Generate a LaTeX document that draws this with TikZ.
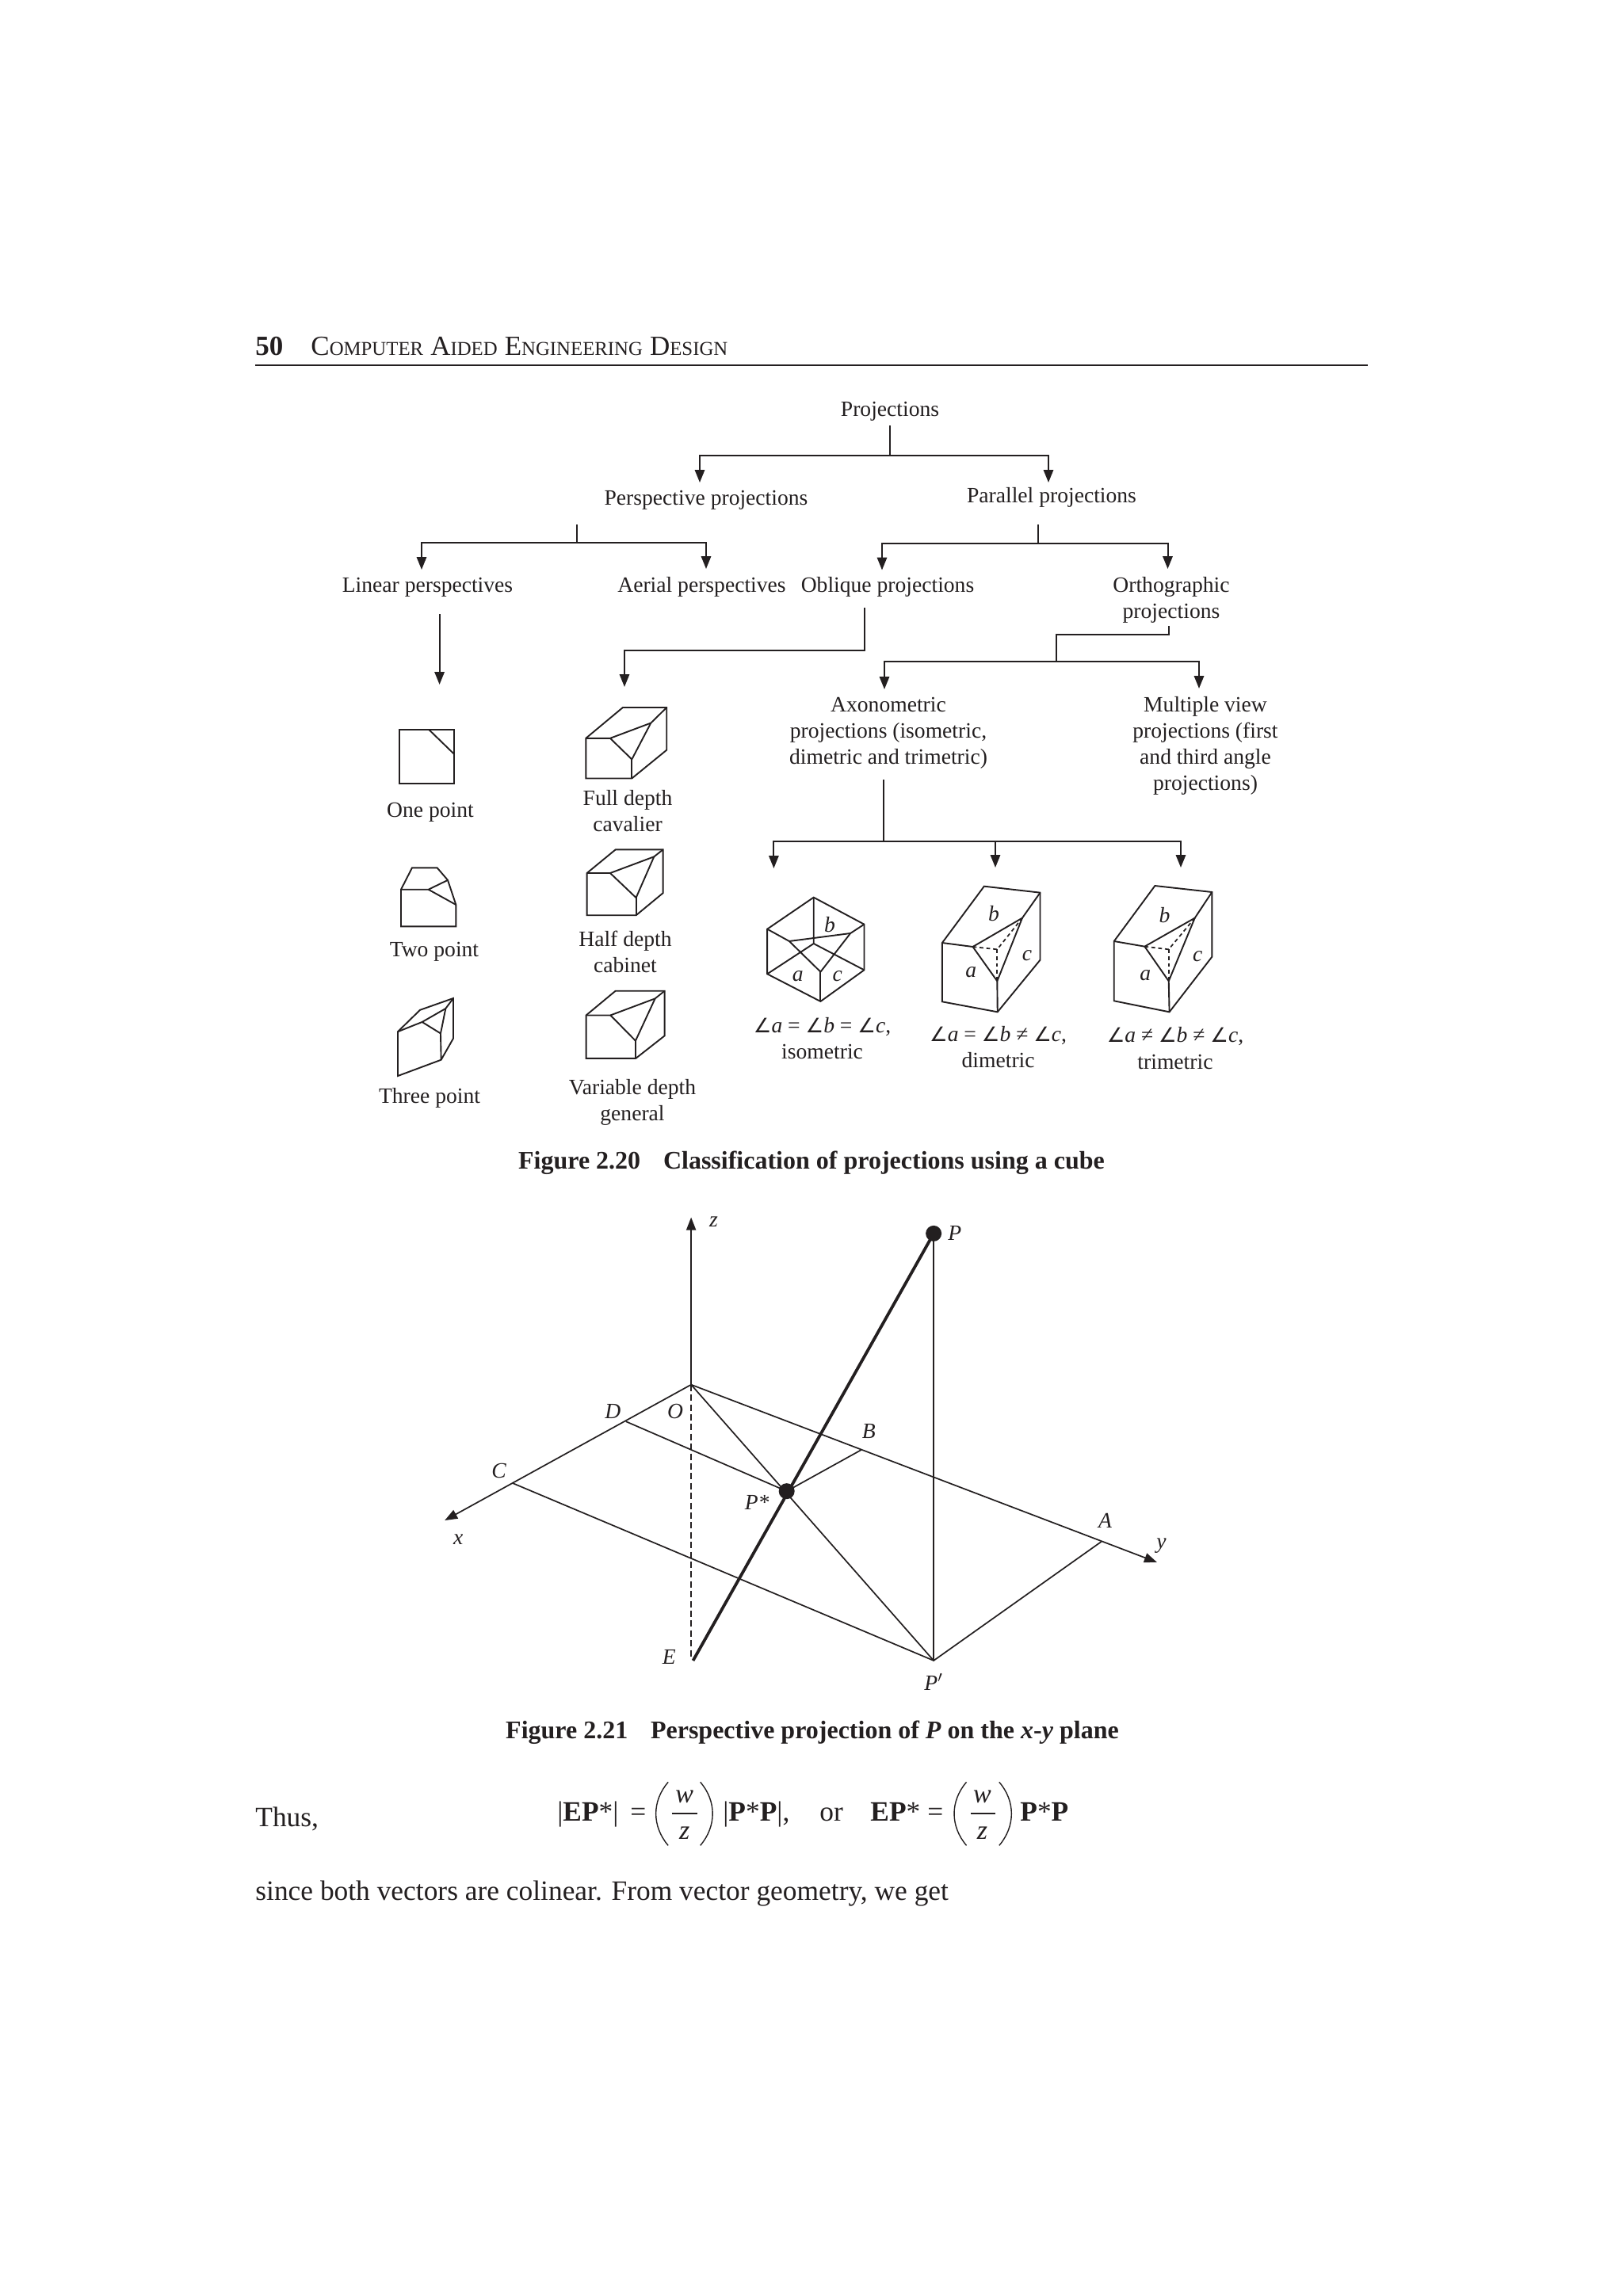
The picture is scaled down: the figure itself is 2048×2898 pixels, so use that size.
\documentclass[tikz,border=0pt]{standalone}
\usepackage{fontspec}
\setmainfont{Liberation Serif}
\newfontfamily\symfont{DejaVu Sans}
\usetikzlibrary{arrows.meta}
\definecolor{ink}{HTML}{231F20}
\newcommand{\LL}[1]{\begin{tabular}[t]{@{}c@{}}#1\end{tabular}}
\newcommand{\Ang}[1]{{\symfont\fontsize{12.6}{16.6}\selectfont ∠}\textit{#1}}
\newcommand{\SC}[2]{{\fontsize{17.5}{20}\selectfont #1}{\fontsize{12.4}{20}\selectfont #2}}
\tikzset{
  x=0.5pt,y=-0.5pt,
  txt/.style={inner sep=0pt,anchor=base,text=ink,font=\fontsize{13.8}{16.6}\selectfont},
  lab/.style={inner sep=0pt,anchor=center,text=ink,font=\fontsize{13.8}{16.6}\selectfont\itshape},
  body/.style={inner sep=0pt,anchor=base west,text=ink,font=\fontsize{17.7}{20}\selectfont},
  capt/.style={inner sep=0pt,anchor=base,text=ink,font=\fontsize{16}{18}\selectfont\bfseries},
  conn/.style={draw=ink,line width=1pt,line join=miter},
  arr/.style={conn,-{Triangle[length=8pt,width=6.2pt]}},
  fig/.style={draw=ink,line width=0.95pt,line join=miter},
  dotted line/.style={draw=ink,line width=0.85pt,dash pattern=on 2.4pt off 1.9pt},
  geo/.style={draw=ink,line width=0.85pt},
  heavy/.style={draw=ink,line width=1.9pt},
  spot/.style={circle,fill=ink,inner sep=0pt,minimum size=10pt},
}
\begin{document}
\begin{tikzpicture}
\useasboundingbox (0,0) rectangle (2048,2898);
\fill[white] (0,0) rectangle (2048,2898);

% header
\node[inner sep=0pt,anchor=base west,text=ink,font=\fontsize{17.5}{20}\selectfont\bfseries] (pageno) at (322,448) {50};
\node[inner sep=0pt,anchor=base west,text=ink] (runhead) at (392,448) {\SC{C}{OMPUTER}\hspace{2pt} \SC{A}{IDED}\hspace{2pt} \SC{E}{NGINEERING}\hspace{2pt} \SC{D}{ESIGN}};
\coordinate (ruleL) at (322,461); \coordinate (ruleR) at (1726,461);
\draw[draw=ink,line width=1.1pt] (ruleL) -- (ruleR);

% tree labels
\node[txt] (proj) at (1123,525) {Projections};
\node[txt] (persp) at (891,637) {Perspective projections};
\node[txt] (para) at (1327,634) {Parallel projections};
\node[txt] (linear) at (539.5,747) {Linear perspectives};
\node[txt] (aerial) at (885.5,747) {Aerial perspectives};
\node[txt] (oblique) at (1120,747) {Oblique projections};
\node[txt] (ortho) at (1478,747) {\LL{Orthographic\\projections}};
\node[txt] (axo) at (1121,898) {\LL{Axonometric\\projections (isometric,\\dimetric and trimetric)}};
\node[txt] (multi) at (1521,898) {\LL{Multiple view\\projections (first\\and third angle\\projections)}};

% tree connectors
\coordinate (a1) at (1122.5,537); \coordinate (a2) at (1122.5,575);
\coordinate (a3) at (883,609); \coordinate (a4) at (1323,609);
\draw[conn] (a1) -- (a2);
\draw[arr] (a2) -| (a3);
\draw[arr] (a2) -| (a4);

\coordinate (b1) at (727.5,662); \coordinate (b2) at (727.5,685);
\coordinate (b3) at (532,719); \coordinate (b4) at (891,718);
\draw[conn] (b1) -- (b2);
\draw[arr] (b2) -| (b3);
\draw[arr] (b2) -| (b4);

\coordinate (c1) at (1309.5,662); \coordinate (c2) at (1309.5,685.5);
\coordinate (c3) at (1113,719.5); \coordinate (c4) at (1473.5,718);
\draw[conn] (c1) -- (c2);
\draw[arr] (c2) -| (c3);
\draw[arr] (c2) -| (c4);

\coordinate (d1) at (554.6,775); \coordinate (d2) at (554.6,864);
\draw[arr] (d1) -- (d2);

\coordinate (e1) at (1091,767); \coordinate (e2) at (1091,821); \coordinate (e3) at (788,867);
\draw[arr] (e1) -- (e2) -| (e3);

\coordinate (f1) at (1475,790); \coordinate (f2) at (1475,801);
\coordinate (f3) at (1333,801); \coordinate (f4) at (1333,835);
\coordinate (f5) at (1116,870); \coordinate (f6) at (1513,869);
\draw[conn] (f1) -- (f2) -- (f3) -- (f4);
\draw[arr] (f4) -| (f5);
\draw[arr] (f4) -| (f6);

\coordinate (g1) at (1115,983.5); \coordinate (g2) at (1115,1062);
\coordinate (g3) at (976.4,1096); \coordinate (g4) at (1256,1095); \coordinate (g5) at (1490,1095);
\draw[conn] (g1) -- (g2);
\draw[arr] (g2) -| (g3);
\draw[arr] (g2) -| (g4);
\draw[arr] (g2) -| (g5);

% left cube column, in crop coordinates
\begin{scope}[shift={(430,880)},xscale=0.3333,yscale=0.37]
\draw[fig] (222,110) rectangle (428,294);
\draw[fig] (333,110) -- (428,193);
\draw[fig] (228,782) -- (436,782) -- (436,708) -- (405,624) -- (365,582) -- (270,582) -- (228,656) -- cycle;
\draw[fig] (228,656) -- (332,656) -- (405,624);
\draw[fig] (332,656) -- (436,708);
\draw[fig] (216,1141) -- (216,1292) -- (380,1237) -- (426,1164) -- (426,1027) -- (300,1067) -- cycle;
\draw[fig] (216,1141) -- (308,1108) -- (397,1062) -- (426,1027);
\draw[fig] (308,1108) -- (378,1147) -- (397,1062);
\draw[fig] (378,1147) -- (380,1237);
% full depth
\draw[fig] (928,140) -- (928,277) -- (1102,277) -- (1234,180) -- (1234,35) -- (1068,35) -- cycle;
\draw[fig] (928,140) -- (1020,140) -- (1174,88) -- (1234,35);
\draw[fig] (1174,88) -- (1102,212) -- (1020,140);
\draw[fig] (1102,212) -- (1102,277);
% half depth
\draw[fig] (932,600) -- (932,744) -- (1118,744) -- (1220,668) -- (1220,520) -- (1040,520) -- cycle;
\draw[fig] (932,600) -- (1020,600) -- (1186,544) -- (1220,520);
\draw[fig] (1186,544) -- (1118,684) -- (1020,600);
\draw[fig] (1118,684) -- (1118,744);
% variable depth
\draw[fig] (929,1085) -- (929,1232) -- (1117,1232) -- (1226,1155) -- (1226,1002) -- (1040,1002) -- cycle;
\draw[fig] (929,1085) -- (1021,1085) -- (1190,1028) -- (1226,1002);
\draw[fig] (1190,1028) -- (1116,1172) -- (1021,1085);
\draw[fig] (1116,1172) -- (1116,1232);
\end{scope}
\node[txt] (onep) at (543,1031) {One point};
\node[txt] (twop) at (548,1207) {Two point};
\node[txt] (threep) at (542,1392) {Three point};
\node[txt] (full) at (792,1016) {\LL{Full depth\\cavalier}};
\node[txt] (half) at (789,1194) {\LL{Half depth\\cabinet}};
\node[txt] (vari) at (798,1381) {\LL{Variable depth\\general}};

% right cubes, in crop coordinates
\begin{scope}[shift={(930,1060)},xscale=0.4337,yscale=0.3333]
\draw[fig] (223,218) -- (370,320) -- (370,493) -- (243,612) -- (88,508) -- (88,338) -- cycle;
\draw[fig] (223,218) -- (223,393) -- (88,508);
\draw[fig] (223,393) -- (370,493);
\draw[fig] (88,338) -- (152,384) -- (330,354) -- (370,320);
\draw[fig] (152,384) -- (243,500) -- (330,354);
\draw[fig] (243,500) -- (243,612);
\node[lab] (isob) at (270,322) {b};
\node[lab] (isoa) at (177,517) {a};
\node[lab] (isoc) at (292,517) {c};
\node[txt] (isocap) at (248,730) {\LL{\Ang{a} = \Ang{b} = \Ang{c},\\isometric}};
%
\draw[fig] (597,390) -- (597,613) -- (758,652) -- (882,455) -- (882,200) -- (719,176) -- cycle;
\draw[fig] (597,390) -- (686,405) -- (830,296) -- (882,200);
\draw[fig] (830,296) -- (757,535) -- (686,405);
\draw[fig] (757,535) -- (758,652);
\draw[dotted line] (686,405) -- (757,415) -- (830,296);
\draw[dotted line] (757,415) -- (757,535);
\node[lab] (dimb) at (747,278) {b};
\node[lab] (dima) at (681,500) {a};
\node[lab] (dimc) at (844,438) {c};
\node[txt] (dimcap) at (760,763) {\LL{\Ang{a} = \Ang{b} ≠ \Ang{c},\\dimetric}};
%
\draw[fig] (1097,384) -- (1097,610) -- (1258,652) -- (1382,443) -- (1382,198) -- (1216,174) -- cycle;
\draw[fig] (1097,384) -- (1186,404) -- (1332,296) -- (1382,198);
\draw[fig] (1332,296) -- (1256,535) -- (1186,404);
\draw[fig] (1256,535) -- (1258,652);
\draw[dotted line] (1186,404) -- (1256,415) -- (1332,296);
\draw[dotted line] (1256,415) -- (1256,535);
\node[lab] (trib) at (1244,285) {b};
\node[lab] (tria) at (1188,512) {a};
\node[lab] (tric) at (1340,442) {c};
\node[txt] (tricap) at (1275,768) {\LL{\Ang{a} ≠ \Ang{b} ≠ \Ang{c},\\trimetric}};
\end{scope}

\node[capt] (cap20) at (1024,1475) {Figure 2.20\hspace{0.9em}Classification of projections using a cube};

% figure 2.21, in crop coordinates
\begin{scope}[shift={(540,1520)},xscale=0.606,yscale=0.4337]
\coordinate (O) at (548,525);
\coordinate (zt) at (548,38);
\coordinate (xt) at (35,920);
\coordinate (yt) at (1518,1042);
\coordinate (C) at (177,812);
\coordinate (D) at (412,632);
\coordinate (B) at (902,715);
\coordinate (A) at (1402,982);
\coordinate (Pp) at (1053,1328);
\coordinate (E) at (552,1328);
\coordinate (Ef) at (548,1325);
\node[spot] (P) at (1053,85) {};
\node[spot] (Ps) at (747,835) {};
\draw[geo,-{Triangle[length=8pt,width=6pt]}] (O) -- (zt);
\draw[geo,-{Triangle[length=8pt,width=6pt]}] (O) -- (xt);
\draw[geo,-{Triangle[length=8pt,width=6pt]}] (O) -- (yt);
\draw[draw=ink,line width=0.85pt,dash pattern=on 4pt off 2.2pt] (O) -- (Ef);
\draw[geo] (D) -- (Ps.center) -- (B);
\draw[geo] (C) -- (Pp) -- (A);
\draw[geo] (O) -- (Pp);
\draw[geo] (P.center) -- (Pp);
\draw[heavy] (E) -- (P.center);
\node[lab] (lz) at (595,50) {z};
\node[lab] (lP) at (1097,83) {P};
\node[lab] (lD) at (385,603) {D};
\node[lab] (lO) at (515,603) {O};
\node[lab] (lB) at (918,660) {B};
\node[lab] (lC) at (148,775) {C};
\node[lab] (lPs) at (685,868) {P*};
\node[lab] (lA) at (1410,920) {A};
\node[lab] (lx) at (63,975) {x};
\node[lab] (ly) at (1527,993) {y};
\node[lab] (lE) at (502,1317) {E};
\node[lab] (lPp) at (1053,1390) {P$'$};
\end{scope}

\node[capt] (cap21) at (1025,2194) {Figure 2.21\hspace{0.9em}Perspective projection of \textit{P} on the \textit{x}-\textit{y} plane};

% equation
\node[body] (thus) at (322,2305) {Thus,};
\node[body] (q1) at (703,2298) {|\textbf{EP}*|};
\node[body] (q2) at (795,2298) {=};
\node[body] (q3) at (912,2298) {|\textbf{P}*\textbf{P}|,};
\node[body] (q4) at (1034,2298) {or};
\node[body] (q5) at (1098,2298) {\textbf{EP}*};
\node[body] (q6) at (1170,2298) {=};
\node[body] (q7) at (1287,2298) {\textbf{P}*\textbf{P}};
\begin{scope}[shift={(300,2220)},xscale=0.765,yscale=0.3333]
\node[lab,font=\fontsize{17}{20}\selectfont\itshape] (w1) at (737,145) {w};
\node[lab,font=\fontsize{17}{20}\selectfont\itshape] (z1) at (737,280) {z};
\node[lab,font=\fontsize{17}{20}\selectfont\itshape] (w2) at (1228,145) {w};
\node[lab,font=\fontsize{17}{20}\selectfont\itshape] (z2) at (1228,280) {z};
\draw[draw=ink,line width=0.7pt] (716,207) -- (758,207);
\draw[draw=ink,line width=0.7pt] (1209,207) -- (1250,207);
\draw[draw=ink,line width=0.7pt] (710,88) .. controls (683,160) and (683,255) .. (710,328);
\draw[draw=ink,line width=0.7pt] (763,88) .. controls (790,160) and (790,255) .. (763,328);
\draw[draw=ink,line width=0.7pt] (1202,88) .. controls (1175,160) and (1175,255) .. (1202,328);
\draw[draw=ink,line width=0.7pt] (1256,88) .. controls (1283,160) and (1283,255) .. (1256,328);
\end{scope}
\node[body] (since) at (322,2398) {since both vectors are colinear. From vector geometry, we get};
\end{tikzpicture}
\end{document}
